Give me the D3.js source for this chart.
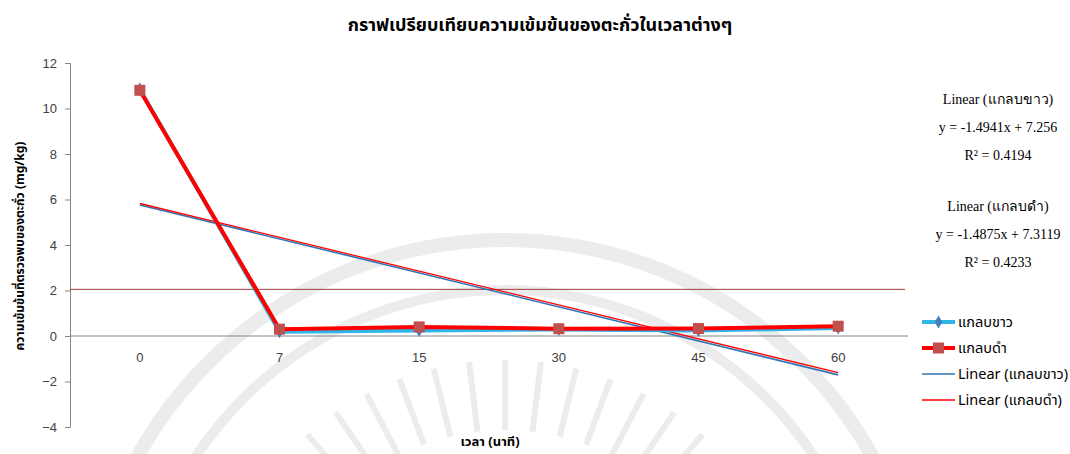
<!DOCTYPE html>
<html>
<head>
<meta charset="utf-8">
<script src="https://cdn.jsdelivr.net/npm/d3@7"></script>
<style>
  body { margin: 0; background: #fff; }
  text { font-family: "Noto Sans Thai", "Noto Sans", "DejaVu Sans", sans-serif; }
</style>
</head>
<body>
<svg class="chart"></svg>
<script>
var width = 1070,
    height = 454;

// data
var times = ["0", "7", "15", "30", "45", "60"];
var whiteHusk = [10.85, 0.19, 0.24, 0.29, 0.24, 0.35];   // แกลบขาว
var blackHusk = [10.8, 0.3, 0.4, 0.32, 0.33, 0.43];     // แกลบดำ
var trendWhite = [-1.4941, 7.256];   // slope, intercept (x = 1..6)
var trendBlack = [-1.4875, 7.3119];
var limitValue = 2.05;
var yTicks = [-4, -2, 0, 2, 4, 6, 8, 10, 12];
var seriesNames = ["แกลบขาว", "แกลบดำ", "Linear (แกลบขาว)", "Linear (แกลบดำ)"];
var eqLines = [
  ["Linear (แกลบขาว)", "y = -1.4941x + 7.256", "R² = 0.4194"],
  ["Linear (แกลบดำ)", "y = -1.4875x + 7.3119", "R² = 0.4233"]
];

var svg = d3.select('.chart')
            .attr('width', width)
            .attr('height', height);

var margin = {left: 70, right: 162, top: 63, bottom: 27};

var x = d3.scalePoint()
          .domain(times)
          .range([margin.left, width - margin.right])
          .padding(0.5);

var y = d3.scaleLinear()
          .domain([-4, 12])
          .range([height - margin.bottom, margin.top]);

// faint watermark in the background
var wm = svg.append('g').attr('fill', 'none').attr('stroke', '#ececec');
[[420, 14], [370, 10]].forEach(function(r) {
  wm.append('circle')
    .attr('cx', 505).attr('cy', 660)
    .attr('r', r[0])
    .attr('stroke-width', r[1]);
});
d3.range(-7, 8).forEach(function(i) {
  var a = i * 0.12;
  wm.append('line')
    .attr('x1', 505 + Math.sin(a) * 230).attr('y1', 660 - Math.cos(a) * 230)
    .attr('x2', 505 + Math.sin(a) * 300).attr('y2', 660 - Math.cos(a) * 300)
    .attr('stroke-width', 6);
});

// y axis
var yAxis = svg.append('g')
   .attr('transform', `translate(${margin.left},0)`)
   .call(d3.axisLeft(y).tickValues(yTicks).tickSize(5).tickPadding(8).tickFormat(d3.format('d')));
yAxis.select('.domain').attr('stroke', '#868686');
yAxis.selectAll('.tick line').attr('stroke', '#868686');
yAxis.selectAll('.tick text')
     .attr('fill', '#404040')
     .style('font-family', '"Liberation Sans", Arial, sans-serif')
     .style('font-size', '13px');

// x axis on zero line
svg.append('line')
   .attr('x1', margin.left).attr('x2', width - margin.right)
   .attr('y1', y(0)).attr('y2', y(0))
   .attr('stroke', '#868686');

svg.append('g')
   .selectAll('text')
   .data(times)
   .join('text')
   .attr('x', d => x(d))
   .attr('y', y(0) + 26)
   .attr('text-anchor', 'middle')
   .attr('fill', '#404040')
   .style('font-family', '"Liberation Sans", Arial, sans-serif')
   .style('font-size', '13px')
   .text(d => d);

// limit line
svg.append('line')
   .attr('x1', margin.left).attr('x2', width - margin.right - 3)
   .attr('y1', y(limitValue)).attr('y2', y(limitValue))
   .attr('stroke', '#a33b3b')
   .attr('stroke-width', 1);

// trend lines
var trendLine = d3.line()
                  .x(d => x(times[d[0] - 1]))
                  .y(d => y(d[1]));

function trendPts(c) {
  return [1, 6].map(i => [i, c[0] * i + c[1]]);
}

svg.append('path')
   .attr('d', trendLine(trendPts(trendWhite)))
   .attr('stroke', '#2e75b6').attr('stroke-width', 1.6).attr('fill', 'none');
svg.append('path')
   .attr('d', trendLine(trendPts(trendBlack)))
   .attr('stroke', '#ff0000').attr('stroke-width', 1.3).attr('fill', 'none');

// series lines
var line = d3.line()
             .x((d, i) => x(times[i]))
             .y(d => y(d));

svg.append('path')
   .attr('d', line(whiteHusk))
   .attr('stroke', '#2fb5e8').attr('stroke-width', 4).attr('fill', 'none');

svg.append('g')
   .selectAll('path')
   .data(whiteHusk)
   .join('path')
   .attr('d', d3.symbol(d3.symbolDiamond, 50))
   .attr('transform', (d, i) => `translate(${x(times[i])},${y(d)})`)
   .attr('fill', '#4a7ebb');

svg.append('path')
   .attr('d', line(blackHusk))
   .attr('stroke', '#ff0000').attr('stroke-width', 4).attr('fill', 'none');

svg.append('g')
   .selectAll('rect')
   .data(blackHusk)
   .join('rect')
   .attr('x', (d, i) => x(times[i]) - 5.5)
   .attr('y', d => y(d) - 5.5)
   .attr('width', 11)
   .attr('height', 11)
   .attr('fill', '#c0504d');

// title
svg.append('text')
   .attr('x', 540)
   .attr('y', 31)
   .attr('text-anchor', 'middle')
   .style('font-size', '18px')
   .style('font-weight', 'bold')
   .attr('fill', '#000')
   .text('กราฟเปรียบเทียบความเข้มข้นของตะกั่วในเวลาต่างๆ');

// axis titles
svg.append('text')
   .attr('transform', 'translate(24,246) rotate(-90)')
   .attr('text-anchor', 'middle')
   .style('font-size', '12px')
   .style('font-weight', 'bold')
   .attr('fill', '#000')
   .text('ความเข้มข้นที่ตรวจพบของตะกั่ว (mg/kg)');

svg.append('text')
   .attr('x', 490)
   .attr('y', 446)
   .attr('text-anchor', 'middle')
   .style('font-size', '13px')
   .style('font-weight', 'bold')
   .attr('fill', '#000')
   .text('เวลา (นาที)');

// trend equations
var eq = svg.append('g')
            .selectAll('g')
            .data(eqLines)
            .join('g')
            .attr('transform', (d, i) => `translate(998,${104 + i * 107})`);

eq.selectAll('text')
  .data(d => d)
  .join('text')
  .attr('y', (d, i) => i * 28)
  .attr('text-anchor', 'middle')
  .style('font-family', '"Liberation Serif", "Times New Roman", serif')
  .style('font-size', '14px')
  .attr('fill', '#000')
  .text(d => d);

// legend
var legend = svg.append('g')
                .selectAll('g')
                .data(seriesNames)
                .join('g')
                .attr('transform', (d, i) => `translate(922,${322 + i * 26})`);

var legColors = ['#2fb5e8', '#ff0000', '#2e75b6', '#ff0000'];
legend.append('line')
      .attr('x1', 0).attr('x2', 33)
      .attr('stroke', (d, i) => legColors[i])
      .attr('stroke-width', (d, i) => i < 2 ? 4 : 1.5);

legend.filter((d, i) => i === 0)
      .append('path')
      .attr('d', d3.symbol(d3.symbolDiamond, 50))
      .attr('transform', 'translate(16.5,0)')
      .attr('fill', '#4a7ebb');

legend.filter((d, i) => i === 1)
      .append('rect')
      .attr('x', 11).attr('y', -5.5)
      .attr('width', 11).attr('height', 11)
      .attr('fill', '#c0504d');

legend.append('text')
      .attr('x', 36)
      .attr('y', 5)
      .style('font-size', '14.5px')
      .attr('fill', '#000')
      .text(d => d);
</script>
</body>
</html>
